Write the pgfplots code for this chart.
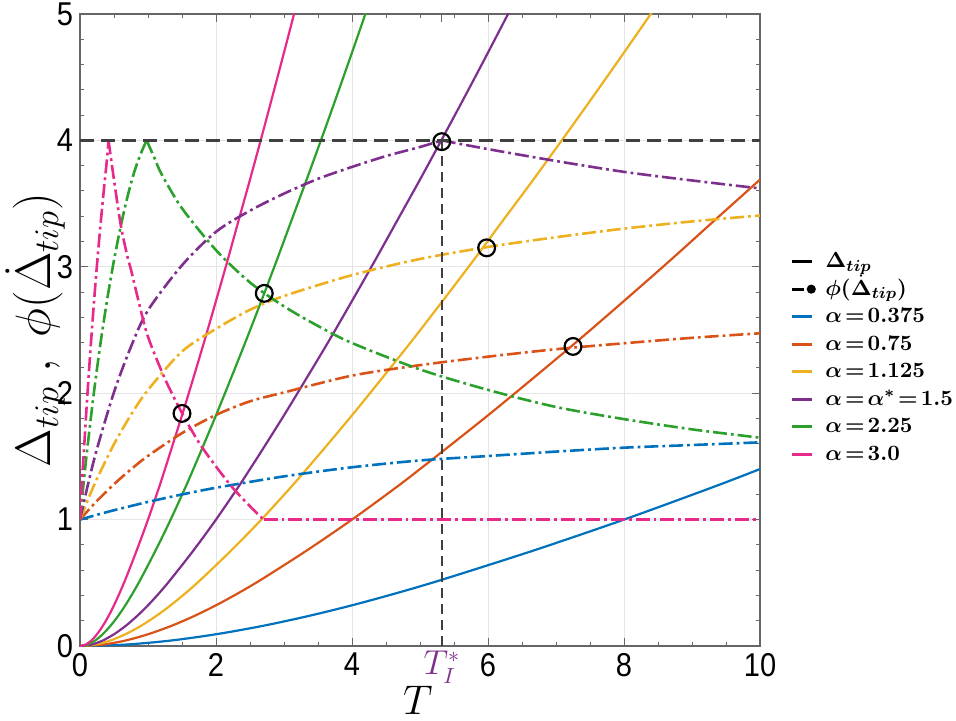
\documentclass[border=0pt]{standalone}
\usepackage{fontspec}
\setsansfont{Liberation Sans}
\newfontfamily\tickfont[FakeStretch=0.88]{Liberation Sans}
\usepackage{amsmath}
\usepackage{bm}
\usepackage{pgfplots}
\pgfplotsset{compat=1.18}
\definecolor{cblue}{RGB}{0,114,189}
\definecolor{corange}{RGB}{217,83,25}
\definecolor{cyellow}{RGB}{237,177,32}
\definecolor{cpurple}{RGB}{126,47,142}
\definecolor{cgreen}{RGB}{44,160,44}
\definecolor{cpink}{RGB}{231,41,138}
\definecolor{cgray}{RGB}{64,64,64}
\pgfplotsset{phi/.style={line width=1.3pt, dash pattern=on 7pt off 2pt on 1.4pt off 2pt}}
\newcommand{\lgd}[1]{$\thickmuskip=2.5mu\relax\bm{#1}$}
\begin{document}
\begin{tikzpicture}
\begin{axis}[
 scale only axis, width=340pt, height=316pt,
 xmin=0, xmax=10, ymin=0, ymax=5,
 xtick={0,2,4,6,8,10}, ytick={0,1,2,3,4,5},
 minor x tick num=3, minor y tick num=4,
 extra x ticks={5.32}, extra x tick labels={$T_I^*$},
 extra x tick style={grid=none, tick label style={text=cpurple, font=\fontsize{16}{16}\selectfont, yshift=1pt}},
 tick align=inside, major tick length=4pt, minor tick length=2.2pt,
 grid=major, major grid style={draw=black!10, line width=0.5pt},
 axis line style={draw=black!60, line width=0.7pt},
 every tick/.style={draw=black!60, line width=0.5pt},
 tick label style={font=\tickfont\fontsize{16.5}{16.5}\selectfont},
 /pgf/number format/assume math mode=true,
 xlabel={$T$}, ylabel={$\Delta_{tip}\ ,\ \phi(\dot{\Delta}_{tip})$},
 xlabel style={font=\fontsize{22}{22}\selectfont, at={(axis description cs:0.497,-0.0854)}, anchor=center},
 ylabel style={font=\fontsize{23}{23}\selectfont, at={(axis description cs:-0.066,0.5)}, anchor=center},
 legend style={draw=none, fill=none, at={(axis description cs:1.036,0.455)}, anchor=west, font=\fontsize{11}{11}\selectfont, row sep=0pt, nodes={inner sep=0pt, text height=9.6pt, text depth=4.15pt, anchor=base west}},
 legend cell align=left,
 legend image code/.code={\draw[#1, line width=1.4pt, solid] (0pt,3pt) -- (10pt,3pt); \path (16pt,3pt);},
 every axis plot/.append style={line width=1.1pt},
]
\coordinate (SW) at (rel axis cs:0,0);
\coordinate (NE) at (rel axis cs:1,1);

\addlegendimage{black}
\addlegendentry{\lgd{\Delta_{tip}}}
\addlegendimage{legend image code/.code={\draw[black, line width=1.4pt] (0pt,3pt) -- (6pt,3pt); \fill[black] (9.5pt,3pt) circle (1.7pt); \path (16pt,3pt);}}
\addlegendentry{\lgd{\phi(\dot{\Delta}_{tip})}}
\addlegendimage{cblue}
\addlegendentry{\lgd{\alpha = 0.375}}
\addlegendimage{corange}
\addlegendentry{\lgd{\alpha = 0.75}}
\addlegendimage{cyellow}
\addlegendentry{\lgd{\alpha = 1.125}}
\addlegendimage{cpurple}
\addlegendentry{\lgd{\alpha = \alpha^{*} = 1.5}}
\addlegendimage{cgreen}
\addlegendentry{\lgd{\alpha = 2.25}}
\addlegendimage{cpink}
\addlegendentry{\lgd{\alpha = 3.0}}

% ---- Delta_tip (solid) ----
\addplot[cblue, smooth, forget plot] coordinates {(0,0) (0.667,0.011) (1.333,0.043) (2,0.093) (2.667,0.157) (3.333,0.234) (4,0.322) (4.667,0.420) (5.333,0.526) (6.667,0.755) (8,1.000) (9.333,1.262) (10,1.400)};
\addplot[corange, smooth, forget plot] coordinates {(0,0) (0.333,0.011) (0.667,0.043) (1,0.093) (1.333,0.157) (1.667,0.234) (2,0.322) (2.333,0.420) (2.667,0.526) (3.333,0.755) (4,1.000) (4.667,1.262) (5,1.400) (5.333,1.540) (6,1.825) (6.667,2.120) (7.333,2.420) (8,2.730) (8.667,3.045) (9.333,3.368) (10,3.690)};
\addplot[cyellow, smooth, forget plot] coordinates {(0,0) (0.222,0.011) (0.444,0.043) (0.667,0.093) (0.889,0.157) (1.111,0.234) (1.333,0.322) (1.556,0.420) (1.778,0.526) (2.222,0.755) (2.667,1.000) (3.111,1.262) (3.333,1.400) (3.556,1.540) (4,1.825) (4.444,2.120) (4.889,2.420) (5.333,2.730) (5.778,3.045) (6.222,3.368) (6.667,3.690) (7.111,4.020) (7.556,4.355) (8,4.695) (8.444,5.040) (8.889,5.390)};
\addplot[cpurple, smooth, forget plot] coordinates {(0,0) (0.167,0.011) (0.333,0.043) (0.5,0.093) (0.667,0.157) (0.833,0.234) (1,0.322) (1.167,0.420) (1.333,0.526) (1.667,0.755) (2,1.000) (2.333,1.262) (2.5,1.400) (2.667,1.540) (3,1.825) (3.333,2.120) (3.667,2.420) (4,2.730) (4.333,3.045) (4.667,3.368) (5,3.690) (5.333,4.020) (5.667,4.355) (6,4.695) (6.333,5.040) (6.667,5.390)};
\addplot[cgreen, smooth, forget plot] coordinates {(0,0) (0.111,0.011) (0.222,0.043) (0.333,0.093) (0.444,0.157) (0.556,0.234) (0.667,0.322) (0.778,0.420) (0.889,0.526) (1.111,0.755) (1.333,1.000) (1.556,1.262) (1.667,1.400) (1.778,1.540) (2,1.825) (2.222,2.120) (2.444,2.420) (2.667,2.730) (2.889,3.045) (3.111,3.368) (3.333,3.690) (3.556,4.020) (3.778,4.355) (4,4.695) (4.222,5.040) (4.444,5.390)};
\addplot[cpink, smooth, forget plot] coordinates {(0,0) (0.083,0.011) (0.167,0.043) (0.25,0.093) (0.333,0.157) (0.417,0.234) (0.5,0.322) (0.583,0.420) (0.667,0.526) (0.833,0.755) (1,1.000) (1.167,1.262) (1.25,1.400) (1.333,1.540) (1.5,1.825) (1.667,2.120) (1.833,2.420) (2,2.730) (2.167,3.045) (2.333,3.368) (2.5,3.690) (2.667,4.020) (2.833,4.355) (3,4.695) (3.167,5.040) (3.333,5.390)};

% ---- phi (dash-dot) ----
\addplot[cblue, phi, smooth, forget plot] coordinates {(0,1) (0.25,1.038) (0.5,1.074) (1,1.140) (1.5,1.199) (2,1.252) (3,1.342) (4,1.414) (5,1.468) (6,1.503) (7,1.538) (8,1.569) (9,1.590) (10,1.611)};
\addplot[corange, phi, smooth, forget plot] coordinates {(0,1) (0.125,1.076) (0.25,1.148) (0.5,1.280) (0.75,1.398) (1,1.504) (1.5,1.684) (2,1.828) (2.5,1.936) (3,2.006) (4,2.139) (5,2.222) (6,2.289) (7,2.348) (8,2.395) (9,2.438) (10,2.474)};
\addplot[cyellow, phi, smooth, forget plot] coordinates {(0,1) (0.125,1.168) (0.25,1.323) (0.5,1.597) (0.75,1.829) (1,2.026) (1.5,2.330) (2,2.509) (2.5,2.660) (3,2.769) (4,2.934) (5,3.062) (6,3.157) (7,3.234) (8,3.302) (9,3.359) (10,3.406)};
\addplot[cpurple, phi, smooth, forget plot] coordinates {(0,1) (0.125,1.295) (0.25,1.560) (0.5,2.008) (0.75,2.368) (1,2.656) (1.5,3.012) (2,3.277) (2.5,3.444) (3,3.579) (3.5,3.696) (4,3.790) (4.5,3.876) (5,3.948) (5.32,4.0)};
\addplot[cpurple, phi, smooth, forget plot] coordinates {(5.32,4.0) (6,3.931) (7,3.837) (8,3.751) (9,3.683) (10,3.620)};
\addplot[cgreen, phi, smooth, forget plot] coordinates {(0,1) (0.05,1.271) (0.1,1.526) (0.2,1.986) (0.3,2.389) (0.4,2.742) (0.5,3.052) (0.6,3.323) (0.7,3.558) (0.8,3.754) (0.9,3.903) (0.98,4.0)};
\addplot[cgreen, phi, smooth, forget plot] coordinates {(0.98,4.0) (1.1,3.855) (1.2,3.733) (1.5,3.463) (2,3.132) (2.5,2.876) (3,2.687) (3.5,2.532) (4,2.397) (5,2.188) (6,2.026) (7,1.891) (8,1.795) (9,1.714) (10,1.648)};
\addplot[cpink, phi, smooth, forget plot] coordinates {(0,1) (0.025,1.244) (0.05,1.477) (0.1,1.915) (0.15,2.314) (0.2,2.681) (0.25,3.016) (0.3,3.323) (0.35,3.604) (0.4,3.870) (0.42,4.0)};
\addplot[cpink, phi, smooth, forget plot] coordinates {(0.42,4.0) (0.5,3.688) (0.6,3.328) (0.7,3.076) (0.75,2.977) (0.875,2.698) (1,2.446) (1.25,2.113) (1.5,1.843) (1.75,1.609) (2,1.420) (2.25,1.249) (2.5,1.105) (2.7,1.0)};
\addplot[cpink, phi, forget plot] coordinates {(2.7,1.0) (10,1.0)};

% ---- reference lines ----
\addplot[cgray, line width=1.3pt, dash pattern=on 7pt off 3.5pt, forget plot] coordinates {(0,4) (10,4)};
\addplot[cgray, line width=0.9pt, dash pattern=on 5pt off 3pt, forget plot] coordinates {(5.32,0) (5.32,4)};

% ---- intersection circles ----
\addplot[only marks, mark=o, mark size=4.2pt, black, line width=1.1pt, forget plot] coordinates {(1.5,1.84) (2.71,2.79) (5.32,3.99) (5.98,3.15) (7.25,2.37)};
\end{axis}
\pgfresetboundingbox
\path ([xshift=-40pt,yshift=-37.5pt]SW) rectangle ([xshift=98pt,yshift=7pt]NE);
\end{tikzpicture}
\end{document}
